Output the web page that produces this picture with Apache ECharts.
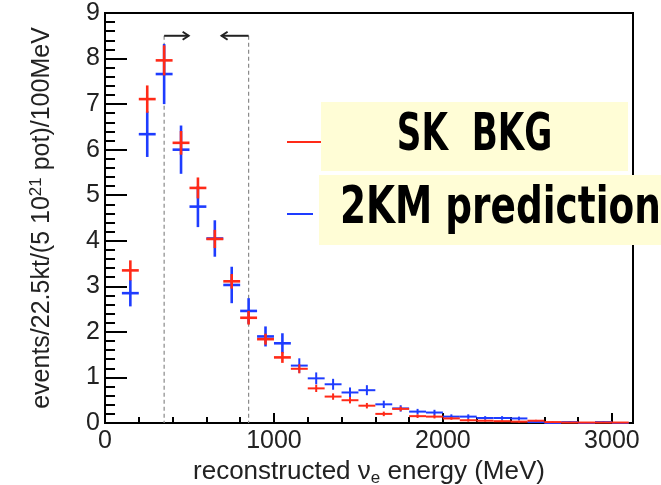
<!DOCTYPE html>
<html><head><meta charset="utf-8">
<script src="https://cdn.jsdelivr.net/npm/echarts@6.0.0/dist/echarts.min.js"></script>
<style>html,body{margin:0;padding:0;background:#fff}#c{width:661px;height:485px}</style>
</head><body><div id="c"></div>
<script>
const SERIES_NAMES = ['SK  BKG', '2KM prediction'];
const BIN_WIDTH = 100;
const BIN_CENTERS = [150, 250, 350, 450, 550, 650, 750, 850, 950, 1050,
  1150, 1250, 1350, 1450, 1550, 1650, 1750, 1850, 1950, 2050,
  2150, 2250, 2350, 2450, 2550, 2650, 2750, 2850, 2950, 3050];
const SK_VALUES = [3.35, 7.11, 7.96, 6.15, 5.16, 4.04, 3.11, 2.31, 1.84, 1.44,
  1.19, 0.76, 0.58, 0.50, 0.38, 0.20, 0.31, 0.15, 0.14, 0.10,
  0.06, 0.05, 0.04, 0.03, 0.05, 0.02, 0.01, 0.01, 0.01, 0.01];
const SK_ERRORS = [0.22, 0.30, 0.33, 0.26, 0.23, 0.20, 0.16, 0.15, 0.12, 0.12,
  0.10, 0.08, 0.07, 0.07, 0.06, 0.05, 0.05, 0.04, 0.04, 0.03,
  0.03, 0.02, 0.02, 0.02, 0.02, 0.01, 0.01, 0.01, 0.01, 0.01];
const KM_VALUES = [2.85, 6.34, 7.66, 6.00, 4.75, 4.05, 3.03, 2.46, 1.90, 1.75,
  1.26, 0.98, 0.85, 0.67, 0.72, 0.41, 0.32, 0.25, 0.23, 0.14,
  0.14, 0.11, 0.11, 0.10, 0.02, 0.00, 0.02, 0.00, 0.02, 0.00];
const KM_ERRORS = [0.29, 0.50, 0.66, 0.53, 0.45, 0.40, 0.40, 0.28, 0.22, 0.22,
  0.16, 0.13, 0.12, 0.11, 0.11, 0.08, 0.07, 0.06, 0.06, 0.05,
  0.05, 0.04, 0.04, 0.04, 0.02, 0.00, 0.02, 0.00, 0.02, 0.00];
const X_MAJOR_TICKS = [0, 1000, 2000, 3000];
const X_MINOR_TICKS = [200, 400, 600, 800, 1200, 1400, 1600, 1800, 2200, 2400, 2600, 2800];
const CUT_ENERGIES = [350, 850];
const CUT_TOP = 8.5;
const ARROW_ENDS = [495, 690];

const RED = '#ff2a18';
const BLUE = '#1e3cff';
const BOX = '#fffdd6';
const FONT = "'Liberation Sans', Arial, sans-serif";
const LEG_FONT = "bold 52px 'DejaVu Sans Condensed', 'DejaVu Sans', sans-serif";

function buildData(vals, errs) {
  return BIN_CENTERS.map((x, i) => [x, vals[i], errs[i]]);
}

function crossRenderer(color) {
  return function (params, api) {
    const x = api.value(0), y = api.value(1), e = api.value(2);
    const lw = x < 1100 ? 2.6 : 2;
    const pL = api.coord([x - BIN_WIDTH / 2, y]);
    const pR = api.coord([x + BIN_WIDTH / 2, y]);
    const pT = api.coord([x, y + e]);
    const pB = api.coord([x, Math.max(0, y - e)]);
    return {
      type: 'group',
      children: [
        { type: 'line', shape: { x1: pL[0], y1: pL[1], x2: pR[0], y2: pR[1] }, style: { stroke: color, lineWidth: lw } },
        { type: 'line', shape: { x1: pT[0], y1: pT[1], x2: pB[0], y2: pB[1] }, style: { stroke: color, lineWidth: lw } }
      ]
    };
  };
}

function cutRenderer(params, api) {
  const cut = api.value(0), end = api.value(1), top = api.value(2);
  const pTop = api.coord([cut, top]);
  const pBot = api.coord([cut, 0]);
  const pEnd = api.coord([end, top]);
  const dir = pEnd[0] > pTop[0] ? 1 : -1;
  return {
    type: 'group',
    children: [
      { type: 'line', shape: { x1: pTop[0], y1: pTop[1], x2: pBot[0], y2: pBot[1] },
        style: { stroke: '#8a8a8a', lineWidth: 1.2, lineDash: [4, 3] } },
      { type: 'line', shape: { x1: pTop[0], y1: pTop[1], x2: pEnd[0], y2: pEnd[1] },
        style: { stroke: '#222', lineWidth: 2 } },
      { type: 'polyline', shape: { points: [[pEnd[0] - dir * 6, pEnd[1] - 4], [pEnd[0], pEnd[1]], [pEnd[0] - dir * 6, pEnd[1] + 4]] },
        style: { stroke: '#222', lineWidth: 2, fill: null } }
    ]
  };
}

const chart = echarts.init(document.getElementById('c'), null, { renderer: 'canvas' });
chart.setOption({
  animation: false,
  backgroundColor: '#fff',
  grid: { left: 105, right: 28, top: 13, bottom: 62, show: true, borderColor: '#000', borderWidth: 2, containLabel: false, outerBoundsMode: 'none' },
  xAxis: [{
    type: 'value', min: 0, max: 3125, position: 'bottom',
    name: 'reconstructed ν{sub|e} energy (MeV)',
    nameLocation: 'middle', nameGap: 34,
    nameTextStyle: { fontSize: 26, fontFamily: FONT, color: '#222',
      rich: { sub: { fontSize: 17, fontFamily: FONT, color: '#222', padding: [12, 0, 0, 0] } } },
    splitLine: { show: false },
    axisLine: { lineStyle: { color: '#000', width: 2 } },
    axisTick: { inside: true, length: 10, customValues: X_MAJOR_TICKS, lineStyle: { color: '#000', width: 2 } },
    axisLabel: { customValues: X_MAJOR_TICKS, formatter: v => String(v), fontSize: 25, fontFamily: FONT, color: '#222', margin: 6 }
  }, {
    type: 'value', min: 0, max: 3125, position: 'bottom', gridIndex: 0,
    splitLine: { show: false },
    axisLine: { show: false },
    axisTick: { inside: true, length: 6, customValues: X_MINOR_TICKS, lineStyle: { color: '#000', width: 2 } },
    axisLabel: { show: false }
  }],
  yAxis: {
    type: 'value', min: 0, max: 9, interval: 1,
    name: 'events/22.5kt/(5 10{sup|21} pot)/100MeV',
    nameLocation: 'middle', nameGap: 48, nameRotate: 90,
    nameTextStyle: { fontSize: 25, fontFamily: FONT, color: '#222',
      rich: { sup: { fontSize: 17, fontFamily: FONT, color: '#222', padding: [0, 0, 12, 0] } } },
    splitLine: { show: false },
    axisLine: { lineStyle: { color: '#000', width: 2 } },
    axisTick: { inside: true, length: 22, lineStyle: { color: '#000', width: 2 } },
    minorTick: { show: true, splitNumber: 5, length: 10, lineStyle: { color: '#000', width: 2 } },
    axisLabel: { formatter: v => String(v), fontSize: 25, fontFamily: FONT, color: '#222', margin: 5 }
  },
  graphic: [
    { type: 'line', z: 20, shape: { x1: 287, y1: 142, x2: 321, y2: 142 }, style: { stroke: RED, lineWidth: 2 } },
    { type: 'rect', z: 20, shape: { x: 321, y: 102, width: 307, height: 69 }, style: { fill: BOX } },
    { type: 'text', z: 21, x: 474.5, y: 136, scaleX: 0.73,
      style: { text: SERIES_NAMES[0], font: LEG_FONT, fill: '#000', align: 'center', verticalAlign: 'middle' } },
    { type: 'line', z: 20, shape: { x1: 287, y1: 214, x2: 313, y2: 214 }, style: { stroke: BLUE, lineWidth: 2 } },
    { type: 'rect', z: 20, shape: { x: 319, y: 175, width: 342, height: 70 }, style: { fill: BOX } },
    { type: 'text', z: 21, x: 340, y: 209, scaleX: 0.80,
      style: { text: SERIES_NAMES[1], font: LEG_FONT, fill: '#000', align: 'left', verticalAlign: 'middle' } }
  ],
  series: [{
    name: 'cuts', type: 'custom', xAxisIndex: 0, silent: true,
    data: CUT_ENERGIES.map((c, i) => [c, ARROW_ENDS[i], CUT_TOP]),
    renderItem: cutRenderer, z: 1
  }, {
    name: SERIES_NAMES[1], type: 'custom', xAxisIndex: 0, color: BLUE,
    itemStyle: { color: BLUE },
    data: buildData(KM_VALUES, KM_ERRORS),
    renderItem: crossRenderer(BLUE), z: 2
  }, {
    name: SERIES_NAMES[0], type: 'custom', xAxisIndex: 0, color: RED,
    itemStyle: { color: RED },
    data: buildData(SK_VALUES, SK_ERRORS),
    renderItem: crossRenderer(RED), z: 3
  }]
});
</script></body></html>
